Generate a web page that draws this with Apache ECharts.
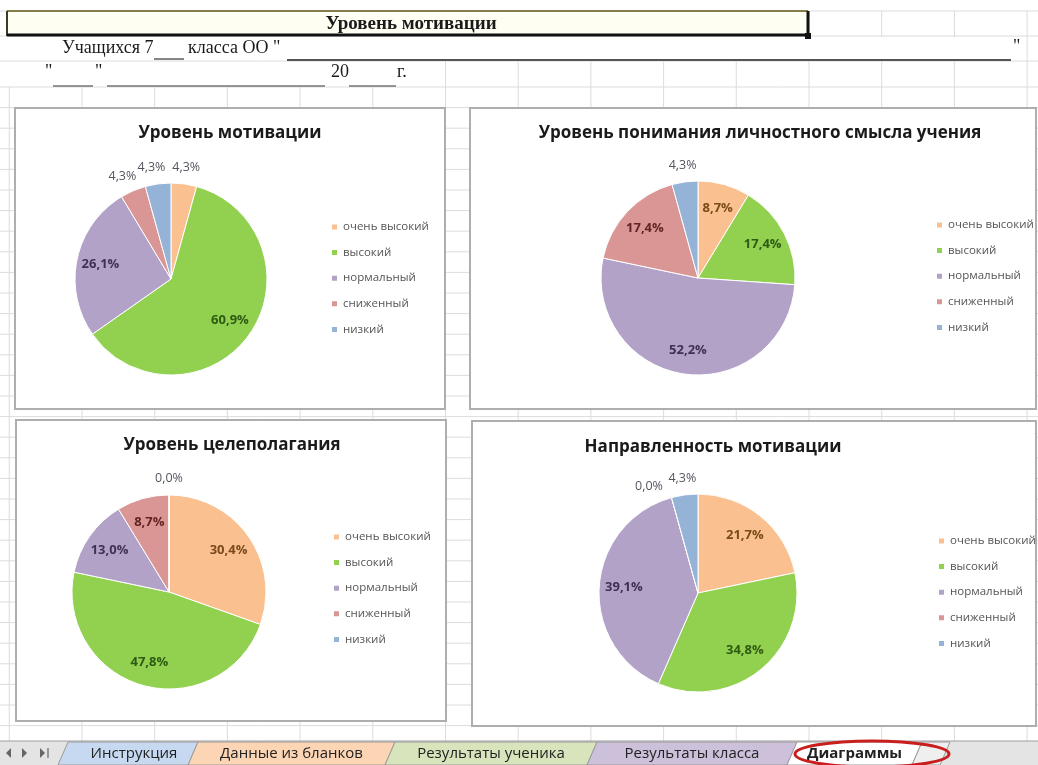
<!DOCTYPE html>
<html><head><meta charset="utf-8">
<script src="https://cdn.jsdelivr.net/npm/echarts@6/dist/echarts.min.js"></script>
<style>html,body{margin:0;padding:0;background:#fff}#c{width:1038px;height:765px}</style>
</head><body><div id="c"></div>
<script>
// ---- data ----
const categories = ['очень высокий', 'высокий', 'нормальный', 'сниженный', 'низкий'];
const motivationLevel = [4.3, 60.9, 26.1, 4.3, 4.3];
const meaningLevel = [8.7, 17.4, 52.2, 17.4, 4.3];
const goalSettingLevel = [30.4, 47.8, 13.0, 8.7, 0.0];
const motivationDirection = [21.7, 34.8, 39.1, 0.0, 4.3];
const chartTitles = ['Уровень мотивации', 'Уровень понимания личностного смысла учения', 'Уровень целеполагания', 'Направленность мотивации'];
const sheetTabs = ['Инструкция', 'Данные из бланков', 'Результаты ученика', 'Результаты класса', 'Диаграммы'];
const headerTitle = 'Уровень мотивации';

// ---- styles ----
const sliceColors = ['#fac090', '#92d050', '#b3a2c7', '#d99694', '#95b3d7'];
const labelColors = ['#7a4a1c', '#2f5a12', '#3f3151', '#632523', '#244061'];
const tabColors = ['#c6d9f1', '#fcd5b4', '#d8e4bc', '#ccc0da', '#ffffff'];
const SANS = '"Open Sans", "DejaVu Sans", sans-serif';
const SERIF = '"Liberation Serif", "DejaVu Serif", serif';

const panels = [
  { values: motivationLevel, center: [171, 279], r: 96, tx: 230, ty: 122, lx: 330, ly: 220 },
  { values: meaningLevel, center: [698, 278], r: 97, tx: 760, ty: 122, lx: 935, ly: 218 },
  { values: goalSettingLevel, center: [169, 592], r: 97, tx: 232, ty: 434, lx: 332, ly: 530 },
  { values: motivationDirection, center: [698, 593], r: 99, tx: 713, ty: 436, lx: 937, ly: 534 }
];

const SMALL = 5;       // slices below this percentage get their label outside
const OUT_BAND = 28;   // width of the label ring outside the pie
const MIN_GAP = 34;    // minimal distance between neighbouring outside labels

// tangential nudge for outside labels whose neighbours are too close
function outsideOffsets(values, ringR) {
  const total = values.reduce((a, b) => a + b, 0);
  let acc = 0;
  const mids = values.map(v => { const m = (acc + v / 2) / total * 2 * Math.PI; acc += v; return m; });
  const off = values.map(() => [0, 0]);
  const n = values.length;
  for (let k = 0; k < n; k++) {
    const j = (k + 1) % n;
    if (values[k] >= SMALL || values[j] >= SMALL) continue;
    let d = mids[j] - mids[k]; if (d < 0) d += 2 * Math.PI;
    const chord = 2 * ringR * Math.sin(d / 2);
    if (chord < MIN_GAP) {
      const push = MIN_GAP - chord, a = mids[k];
      off[k] = [-push * Math.cos(a), -push * Math.sin(a)];
    }
  }
  return off;
}

const fmt = p => p.value.toFixed(1).replace('.', ',') + '%';
const series = [], titles = [], legends = [];
panels.forEach((c, i) => {
  titles.push({ text: chartTitles[i], left: c.tx, top: c.ty, textAlign: 'center', padding: 0,
    textStyle: { fontFamily: SANS, fontSize: 17, fontWeight: 'bold', color: '#1a1a1a', lineHeight: 22 } });
  legends.push({ orient: 'vertical', left: c.lx, top: c.ly, padding: 0, itemWidth: 7, itemHeight: 7, itemGap: 11.6,
    icon: 'rect', selectedMode: false,
    textStyle: { fontFamily: SANS, fontSize: 11.5, color: '#555555', lineHeight: 14 },
    data: categories.map((n, k) => ({ name: n, itemStyle: { color: sliceColors[k] } })) });
  series.push({ type: 'pie', center: c.center, radius: c.r, startAngle: 90, clockwise: true, silent: true,
    label: { show: false }, labelLine: { show: false }, itemStyle: { borderColor: '#ffffff', borderWidth: 1 },
    data: categories.map((n, k) => ({ name: n, value: c.values[k], itemStyle: { color: sliceColors[k] } })) });
  series.push({ type: 'pie', center: c.center, radius: [c.r * 0.44, c.r], startAngle: 90, silent: true, z: 3,
    itemStyle: { color: 'rgba(0,0,0,0)' }, labelLine: { show: false },
    label: { position: 'inside', formatter: fmt, fontFamily: SANS, fontSize: 13, fontWeight: 'bold' },
    data: categories.map((n, k) => ({ name: n, value: c.values[k], label: { show: c.values[k] >= SMALL, color: labelColors[k] } })) });
  const off = outsideOffsets(c.values, c.r + OUT_BAND / 2);
  series.push({ type: 'pie', center: c.center, radius: [c.r, c.r + OUT_BAND], startAngle: 90, silent: true, z: 3,
    itemStyle: { color: 'rgba(0,0,0,0)' }, labelLine: { show: false },
    label: { position: 'inside', formatter: fmt, fontFamily: SANS, fontSize: 12.5, color: '#555560' },
    data: categories.map((n, k) => ({ name: n, value: c.values[k], label: { show: c.values[k] < SMALL, offset: off[k] } })) });
});

// ---- spreadsheet chrome ----
const g = [];
const GRID = '#dcdcdc';
const colX = []; for (let k = 0; k <= 14; k++) colX.push(9.3 + 72.7 * k);
const rowY = [11, 36, 61, 87]; for (let y = 107.6; y < 741; y += 20.6) rowY.push(y);
rowY.forEach(y => g.push({ type: 'line', z: 0, shape: { x1: 0, y1: y, x2: 1038, y2: y }, style: { stroke: GRID, lineWidth: 1 } }));
colX.forEach(x => {
  let y1 = 87;
  if (x > 805) y1 = 11; else if (x > 440) y1 = 61;
  g.push({ type: 'line', z: 0, shape: { x1: x, y1: y1, x2: x, y2: 741 }, style: { stroke: GRID, lineWidth: 1 } });
});
g.push({ type: 'rect', z: 0.5, shape: { x: 10, y: 37, width: 1016, height: 23 }, style: { fill: '#fff' } });
// header cell
g.push({ type: 'rect', z: 1, shape: { x: 7, y: 11, width: 801, height: 24 }, style: { fill: '#fffef3' } });
g.push({ type: 'line', z: 1, shape: { x1: 7, y1: 11, x2: 808, y2: 11 }, style: { stroke: '#857b4c', lineWidth: 2 } });
g.push({ type: 'line', z: 1, shape: { x1: 7, y1: 11, x2: 7, y2: 36 }, style: { stroke: '#3d3a2a', lineWidth: 2 } });
g.push({ type: 'line', z: 1, shape: { x1: 7, y1: 35, x2: 809, y2: 35 }, style: { stroke: '#111', lineWidth: 3 } });
g.push({ type: 'line', z: 1, shape: { x1: 808, y1: 11, x2: 808, y2: 36 }, style: { stroke: '#111', lineWidth: 3 } });
g.push({ type: 'rect', z: 1, shape: { x: 805, y: 33, width: 6, height: 6 }, style: { fill: '#111' } });
const txt = (text, x, y, font, align, fill) => ({ type: 'text', z: 2, style: { text, x, y, font, fill: fill || '#1a1a1a',
  textAlign: align || 'left', align: align || 'left', textVerticalAlign: 'middle', verticalAlign: 'middle' } });
g.push(txt(headerTitle, 411, 24, 'bold 19px ' + SERIF, 'center'));
// row 2
g.push(txt('Учащихся 7', 62, 48, '18px ' + SERIF));
g.push({ type: 'line', z: 1, shape: { x1: 154, y1: 59, x2: 184, y2: 59 }, style: { stroke: '#333', lineWidth: 1.2 } });
g.push(txt('класса ОО "', 188, 48, '18px ' + SERIF));
g.push({ type: 'line', z: 1, shape: { x1: 287, y1: 60, x2: 1011, y2: 60 }, style: { stroke: '#555', lineWidth: 1.8 } });
g.push(txt('"', 1013, 47, '18px ' + SERIF));
// row 3
g.push(txt('"', 45, 72, '18px ' + SERIF));
g.push({ type: 'line', z: 1, shape: { x1: 53, y1: 86, x2: 93, y2: 86 }, style: { stroke: '#333', lineWidth: 1.2 } });
g.push(txt('"', 95, 72, '18px ' + SERIF));
g.push({ type: 'line', z: 1, shape: { x1: 107, y1: 86, x2: 325, y2: 86 }, style: { stroke: '#333', lineWidth: 1.2 } });
g.push(txt('20', 331, 72, '18px ' + SERIF));
g.push({ type: 'line', z: 1, shape: { x1: 349, y1: 86, x2: 396, y2: 86 }, style: { stroke: '#333', lineWidth: 1.2 } });
g.push(txt('г.', 397, 72, '18px ' + SERIF));
// chart boxes
[[15, 108, 430, 301], [470, 108, 566, 301], [16, 420, 430, 301], [472, 421, 564, 305]].forEach(b =>
  g.push({ type: 'rect', z: 1, shape: { x: b[0], y: b[1], width: b[2], height: b[3] }, style: { fill: '#fff', stroke: '#aeaeae', lineWidth: 2 } }));
// tab bar
g.push({ type: 'rect', z: 1, shape: { x: 0, y: 741, width: 1038, height: 24 }, style: { fill: '#e4e4e4' } });
g.push({ type: 'line', z: 1, shape: { x1: 0, y1: 741, x2: 1038, y2: 741 }, style: { stroke: '#9e9e9e', lineWidth: 1 } });
[[6, 0], [22, 1], [40, 1]].forEach(a => {
  const x = a[0], d = a[1] ? 1 : -1;
  g.push({ type: 'polygon', z: 2, shape: { points: [[x + (d < 0 ? 5 : 0), 748], [x + (d < 0 ? 5 : 0), 758], [x + (d < 0 ? 0 : 5), 753]] }, style: { fill: '#666' } });
});
g.push({ type: 'line', z: 2, shape: { x1: 48, y1: 748, x2: 48, y2: 758 }, style: { stroke: '#666', lineWidth: 1.2 } });
const tabEdges = [58, 188, 385, 587, 787, 912, 940];
for (let i = 0; i < tabEdges.length - 1; i++) {
  const a = tabEdges[i], b = tabEdges[i + 1];
  g.push({ type: 'polygon', z: 2, shape: { points: [[a, 765], [a + 10, 742], [b + 10, 742], [b, 765]] },
    style: { fill: i < tabColors.length ? tabColors[i] : '#efefef', stroke: '#9a9a9a', lineWidth: 1 } });
  if (i < sheetTabs.length)
    g.push(txt(sheetTabs[i], (a + b) / 2 + 5 + (i === 0 ? 6 : 0), 754, (i === 4 ? 'bold ' : '') + '15px ' + SANS, 'center', '#222'));
}
g.push({ type: 'ellipse', z: 3, shape: { cx: 872, cy: 754, rx: 77, ry: 13 }, style: { fill: 'none', stroke: '#c81e1e', lineWidth: 3 } });

const chart = echarts.init(document.getElementById('c'), null, { renderer: 'canvas', width: 1038, height: 765 });
chart.setOption({ backgroundColor: '#ffffff', animation: false, title: titles, legend: legends, series, graphic: { elements: g } });
</script></body></html>
